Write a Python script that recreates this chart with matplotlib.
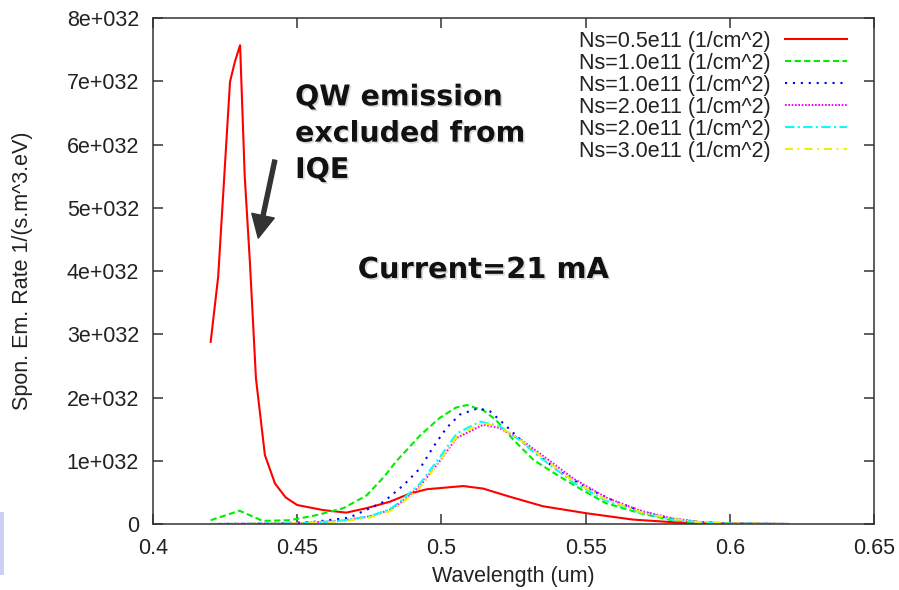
import matplotlib
matplotlib.use("Agg")
import matplotlib.pyplot as plt
import matplotlib.patheffects as pe
from matplotlib.patches import Rectangle

plt.rcParams['font.family'] = ['Liberation Sans', 'DejaVu Sans']

# ---------------- data (spontaneous emission rate, units of 1e32) ----------------
wl_red = [0.420, 0.4226, 0.4267, 0.4284, 0.4302, 0.4318, 0.4336, 0.4357, 0.4388, 0.4423,
          0.4460, 0.4500, 0.459, 0.467, 0.474, 0.482, 0.489, 0.495, 0.5076, 0.5145,
          0.5238, 0.5353, 0.5503, 0.5664, 0.583, 0.600, 0.620]
red = [2.88, 3.91, 6.99, 7.31, 7.57, 5.50, 4.14, 2.30, 1.09, 0.64,
       0.42, 0.30, 0.22, 0.18, 0.25, 0.35, 0.48, 0.55, 0.60, 0.56,
       0.43, 0.28, 0.17, 0.07, 0.02, 0.005, 0.0]

wl_green = [0.420, 0.430, 0.438, 0.4475, 0.4567, 0.466, 0.474, 0.480, 0.4845, 0.489,
            0.4926, 0.4995, 0.505, 0.5088, 0.5145, 0.519, 0.525, 0.532, 0.541, 0.548,
            0.557, 0.569, 0.580, 0.590, 0.600, 0.620]
green = [0.06, 0.21, 0.05, 0.06, 0.14, 0.25, 0.45, 0.74, 1.00, 1.22,
         1.40, 1.68, 1.84, 1.88, 1.80, 1.64, 1.33, 1.01, 0.75, 0.56,
         0.33, 0.17, 0.06, 0.02, 0.005, 0.0]

wl_blue = [0.420, 0.440, 0.455, 0.468, 0.480, 0.487, 0.4926, 0.4972, 0.5018, 0.5064,
           0.5128, 0.5169, 0.5215, 0.530, 0.540, 0.550, 0.560, 0.570, 0.580, 0.590,
           0.600, 0.620]
blue = [0.0, 0.005, 0.03, 0.10, 0.35, 0.62, 0.88, 1.22, 1.52, 1.73,
        1.83, 1.78, 1.59, 1.22, 0.86, 0.58, 0.36, 0.19, 0.08, 0.03,
        0.008, 0.0]

wl_mag = [0.420, 0.450, 0.465, 0.475, 0.482, 0.4856, 0.4926, 0.4995, 0.5053, 0.5145,
          0.520, 0.527, 0.534, 0.5457, 0.557, 0.569, 0.580, 0.590, 0.600, 0.620]
mag = [0.0, 0.01, 0.05, 0.12, 0.22, 0.33, 0.60, 1.00, 1.36, 1.57,
       1.52, 1.35, 1.12, 0.72, 0.42, 0.21, 0.09, 0.03, 0.01, 0.0]

wl_cyan = [0.420, 0.450, 0.465, 0.475, 0.482, 0.4856, 0.4926, 0.4995, 0.5053, 0.5134,
           0.520, 0.527, 0.534, 0.5457, 0.557, 0.569, 0.580, 0.590, 0.600, 0.620]
cyan = [0.0, 0.01, 0.05, 0.12, 0.23, 0.35, 0.64, 1.06, 1.43, 1.62,
        1.55, 1.33, 1.06, 0.66, 0.37, 0.18, 0.07, 0.025, 0.008, 0.0]

wl_yel = [0.420, 0.450, 0.465, 0.475, 0.482, 0.4856, 0.4926, 0.4995, 0.5053, 0.5140,
          0.520, 0.527, 0.534, 0.5457, 0.557, 0.569, 0.580, 0.590, 0.600, 0.620]
yel = [0.0, 0.008, 0.04, 0.10, 0.20, 0.30, 0.58, 1.00, 1.38, 1.60,
       1.54, 1.34, 1.09, 0.68, 0.39, 0.19, 0.08, 0.028, 0.009, 0.0]

labels = ["Ns=0.5e11 (1/cm^2)", "Ns=1.0e11 (1/cm^2)", "Ns=1.0e11 (1/cm^2)",
          "Ns=2.0e11 (1/cm^2)", "Ns=2.0e11 (1/cm^2)", "Ns=3.0e11 (1/cm^2)"]

xticks = [0.4, 0.45, 0.5, 0.55, 0.6, 0.65]
xticklabels = ["0.4", "0.45", "0.5", "0.55", "0.6", "0.65"]
yticks = [0, 1, 2, 3, 4, 5, 6, 7, 8]
yticklabels = ["0", "1e+032", "2e+032", "3e+032", "4e+032", "5e+032", "6e+032", "7e+032", "8e+032"]
SCALE = 1e32

# ---------------- figure ----------------
fig = plt.figure(figsize=(8.99, 5.90), dpi=100)
ax = fig.add_axes([153/899, 1-524/590, (874-153)/899, (524-18)/590])

lw = 1.5
series = [
    (wl_red, red, '#ff0000', dict(linestyle='-')),
    (wl_green, green, '#00ee00', dict(dashes=(3, 1.6))),
    (wl_blue, blue, '#0000ff', dict(dashes=(1, 2.8))),
    (wl_mag, mag, '#ff00ff', dict(dashes=(0.8, 0.8))),
    (wl_cyan, cyan, '#00ffff', dict(dashes=(4.5, 1.6, 1, 1.6))),
    (wl_yel, yel, '#eeee00', dict(dashes=(3.8, 2.2, 0.8, 2.6))),
]
for (x, y, c, st), lab in zip(series, labels):
    ax.plot(x, [v * SCALE for v in y], color=c, lw=lw, label=lab, **st)

ax.set_xlim(0.4, 0.65)
ax.set_ylim(0, 8 * SCALE)
ax.set_xticks(xticks)
ax.set_xticklabels(xticklabels)
ax.set_yticks([t * SCALE for t in yticks])
ax.set_yticklabels(yticklabels)

spine_col = '#333333'
for s in ax.spines.values():
    s.set_color(spine_col)
    s.set_linewidth(1.1)
ax.tick_params(direction='in', length=7.5, width=1.1, color=spine_col,
               top=True, right=True, labelsize=15.5, labelcolor='#222222')
ax.tick_params(axis='x', pad=10)
ax.tick_params(axis='y', pad=10)

ax.set_xlabel("Wavelength (um)", fontsize=15.5, color='#222222', labelpad=5)
ax.set_ylabel("Spon. Em. Rate 1/(s.m^3.eV)", fontsize=15.5, color='#222222', labelpad=24)

leg = ax.legend(loc='upper right', bbox_to_anchor=(0.9626, 0.975), frameon=False,
                fontsize=15.5, markerfirst=False, handlelength=2.9, handletextpad=0.65,
                labelspacing=0.05, borderaxespad=0, borderpad=0)
for t in leg.get_texts():
    t.set_color('#222222')

shadow = [pe.SimplePatchShadow(offset=(1.2, -1.2), shadow_rgbFace='#aaaaaa', alpha=0.45), pe.Normal()]
ax.text(0.197, 0.871, "QW emission\nexcluded from\nIQE", transform=ax.transAxes,
        fontsize=20.5, fontweight='bold', family='DejaVu Sans', color='#111111',
        va='top', ha='left', linespacing=1.38, path_effects=shadow)
ax.text(0.284, 0.502, "Current=21 mA", transform=ax.transAxes,
        fontsize=20.8, fontweight='bold', family='DejaVu Sans', color='#111111',
        va='center', ha='left', path_effects=shadow)

ax.annotate("", xy=(0.146, 0.565), xytext=(0.169, 0.719),
            xycoords='axes fraction', textcoords='axes fraction',
            arrowprops=dict(width=2.9, headwidth=16.5, headlength=16.5,
                            color='#333333', shrink=0))

fig.add_artist(Rectangle((0, 1 - 575/590), 4/899, 63/590, transform=fig.transFigure,
                         facecolor='#cdd0f4', edgecolor='none'))

fig.savefig("out.png", dpi=100)
